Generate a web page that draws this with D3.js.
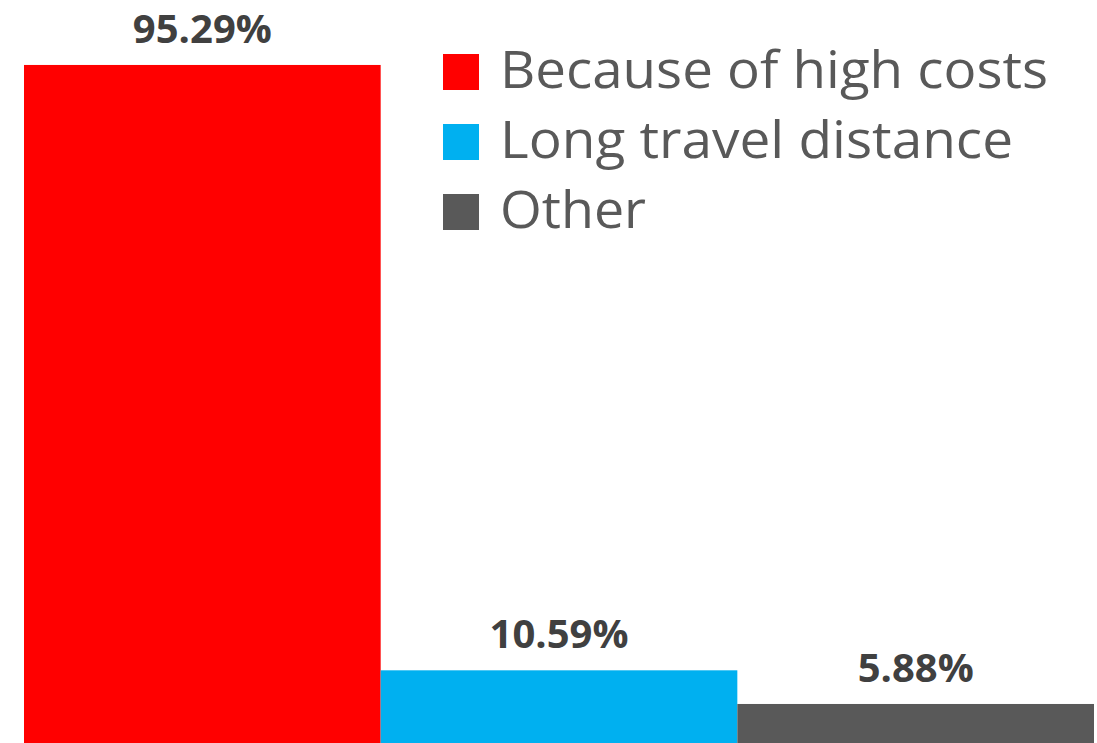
<!DOCTYPE html>
<html lang="en">
<head>
    <meta charset="UTF-8">
    <title>Reasons</title>
    <script src="https://d3js.org/d3.v7.min.js"></script>
    <style>
        body {
            margin: 0;
            background-color: #fff;
            overflow: hidden;
        }
        .label {
            font-family: "Open Sans", sans-serif;
            font-weight: bold;
            font-size: 40px;
            fill: #404040;
        }
        .legend text {
            font-family: "Open Sans", sans-serif;
            font-size: 51px;
            fill: #595959;
        }
    </style>
</head>
<body>
    <div id="chart"></div>

    <script>
    // Chart data
    const categories = ["Because of high costs", "Long travel distance", "Other"];
    const values = [95.29, 10.59, 5.88];
    const colors = ["#FF0000", "#00B0F0", "#595959"];
    const legendWidths = [548, 513, 146];

    const width = 1097,
          height = 743;

    const svg = d3.select("#chart").append("svg")
        .attr("width", width)
        .attr("height", height);

    // baseline sits just below the visible area
    const x = d3.scaleBand()
        .domain(categories)
        .range([24, 1094])
        .padding(0);

    const y = d3.scaleLinear()
        .domain([0, 100])
        .range([746, 31.3]);

    // Bars
    svg.selectAll("rect.bar")
        .data(categories)
        .enter().append("rect")
        .attr("class", "bar")
        .attr("x", d => x(d))
        .attr("width", x.bandwidth())
        .attr("y", (d, i) => y(values[i]))
        .attr("height", (d, i) => y(0) - y(values[i]))
        .attr("fill", (d, i) => colors[i]);

    // Value labels
    svg.selectAll("text.label")
        .data(categories)
        .enter().append("text")
        .attr("class", "label")
        .attr("x", d => x(d) + x.bandwidth() / 2)
        .attr("y", (d, i) => y(values[i]) - 22)
        .attr("text-anchor", "middle")
        .text((d, i) => values[i].toFixed(2) + "%");

    // Legend
    const legend = svg.append("g")
        .attr("class", "legend")
        .attr("transform", "translate(443,54)");

    const item = legend.selectAll("g")
        .data(categories)
        .enter().append("g")
        .attr("transform", (d, i) => `translate(0,${i * 70})`);

    item.append("rect")
        .attr("width", 36)
        .attr("height", 36)
        .attr("fill", (d, i) => colors[i]);

    item.append("text")
        .attr("x", 57)
        .attr("y", 34)
        .attr("textLength", (d, i) => legendWidths[i])
        .attr("lengthAdjust", "spacingAndGlyphs")
        .text(d => d);
    </script>
</body>
</html>
